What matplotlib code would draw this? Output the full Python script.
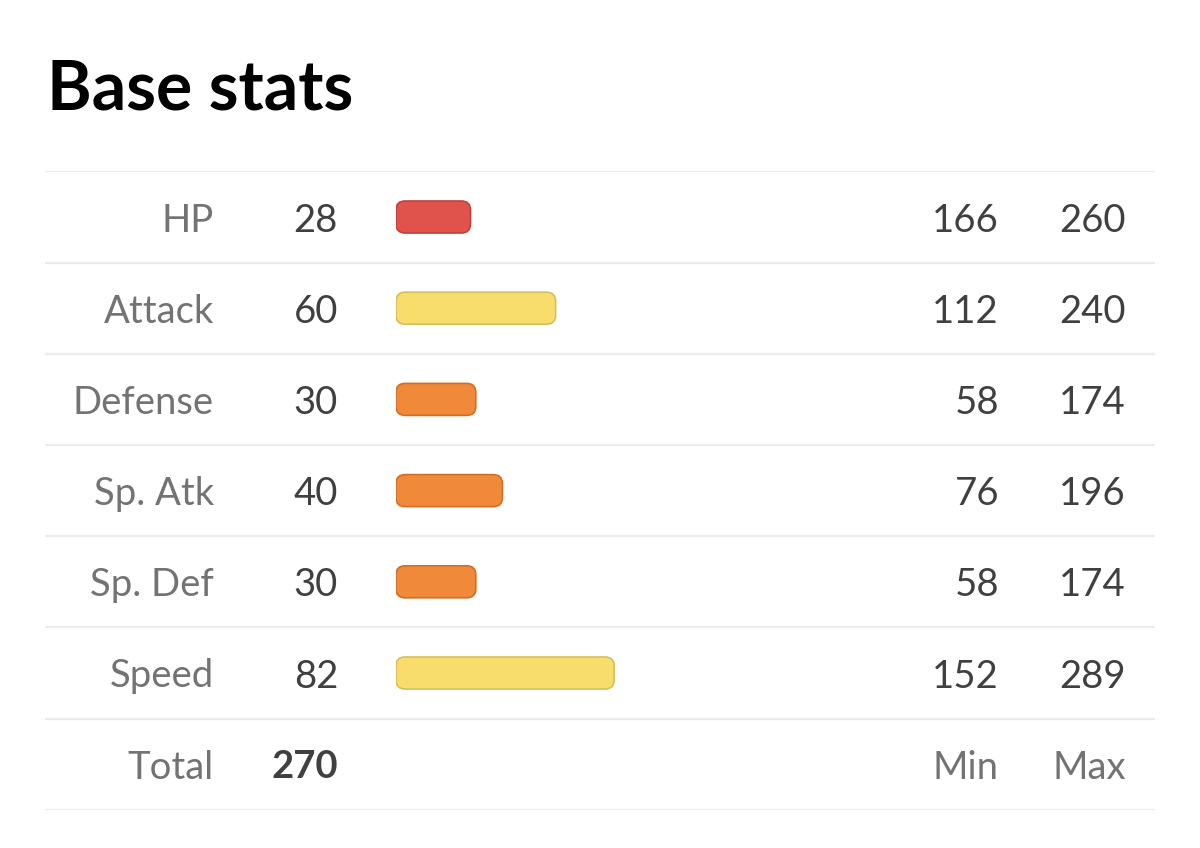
import matplotlib
matplotlib.use("Agg")
import matplotlib.pyplot as plt
from matplotlib.patches import FancyBboxPatch

plt.rcParams['font.family'] = ['Lato', 'DejaVu Sans']

title = "Base stats"
stats = ["HP", "Attack", "Defense", "Sp. Atk", "Sp. Def", "Speed"]
base = [28, 60, 30, 40, 30, 82]
mins = [166, 112, 58, 76, 58, 152]
maxs = [260, 240, 174, 196, 174, 289]
total_label = "Total"
total = 270
min_label = "Min"
max_label = "Max"

def bar_colors(v):
    if v < 30:
        return "#e0534d", "#c0403c"
    if v < 60:
        return "#f0893a", "#d26f27"
    return "#f9dd6c", "#d4bf5a"

W, H = 1200, 848
fig = plt.figure(figsize=(W / 100, H / 100), dpi=100)
fig.patch.set_facecolor("white")

nrows = len(stats) + 1
pitch = 91.2
top_px = 217 - 0.5 * pitch
bot_px = top_px + nrows * pitch
ax_bottom = 1 - bot_px / H
ax_height = (bot_px - top_px) / H

# table axes (x in figure px layout, y in rows)
ax = fig.add_axes([0, ax_bottom, 1, ax_height])
ax.set_xlim(0, W)
ax.set_ylim(nrows - 0.5, -0.5)
ax.axis("off")

# separators
for i in range(nrows + 1):
    ax.plot([45, 1155], [i - 0.5, i - 0.5], color="#ececec", lw=1.6,
            solid_capstyle="butt", zorder=1)

label_color = "#737373"
value_color = "#404040"
fs = 27.5

for i, (s, b, mn, mx) in enumerate(zip(stats, base, mins, maxs)):
    ax.text(214, i, s, ha="right", va="center_baseline", fontsize=fs, color=label_color)
    ax.text(338, i, str(b), ha="right", va="center_baseline", fontsize=fs, color=value_color)
    ax.text(999, i, str(mn), ha="right", va="center_baseline", fontsize=fs, color=value_color)
    ax.text(1126, i, str(mx), ha="right", va="center_baseline", fontsize=fs, color=value_color)

ti = len(stats)
ax.text(214, ti, total_label, ha="right", va="center_baseline", fontsize=fs, color=label_color)
ax.text(338, ti, str(total), ha="right", va="center_baseline", fontsize=fs,
        color=value_color, fontweight="bold")
ax.text(999, ti, min_label, ha="right", va="center_baseline", fontsize=fs, color=label_color)
ax.text(1126, ti, max_label, ha="right", va="center_baseline", fontsize=fs, color=label_color)

# bars axes
px_per_unit = 2.66
bx0 = 396
bw_px = 700
axb = fig.add_axes([bx0 / W, ax_bottom, bw_px / W, ax_height])
axb.set_xlim(0, bw_px / px_per_unit)
axb.set_ylim(nrows - 0.5, -0.5)
axb.axis("off")
axb.patch.set_alpha(0)

bar_h = 32 / pitch
rects = axb.barh(range(len(stats)), base, height=bar_h, left=0)
radius_px = 9
r_units = radius_px / px_per_unit
aspect = px_per_unit / pitch
for rect, v in zip(rects, base):
    x, y = rect.get_x(), rect.get_y()
    w, h = rect.get_width(), rect.get_height()
    rect.remove()
    fc, ec = bar_colors(v)
    p = FancyBboxPatch((x, y), w, h,
                       boxstyle=f"round,pad=0,rounding_size={r_units}",
                       mutation_aspect=aspect, facecolor=fc, edgecolor=ec, lw=1.2)
    axb.add_patch(p)

fig.text(47 / W, 1 - 110 / H, title, ha="left", va="baseline", fontsize=49,
         fontweight="bold", color="#000000")

fig.savefig("out.png", dpi=100, facecolor="white")
